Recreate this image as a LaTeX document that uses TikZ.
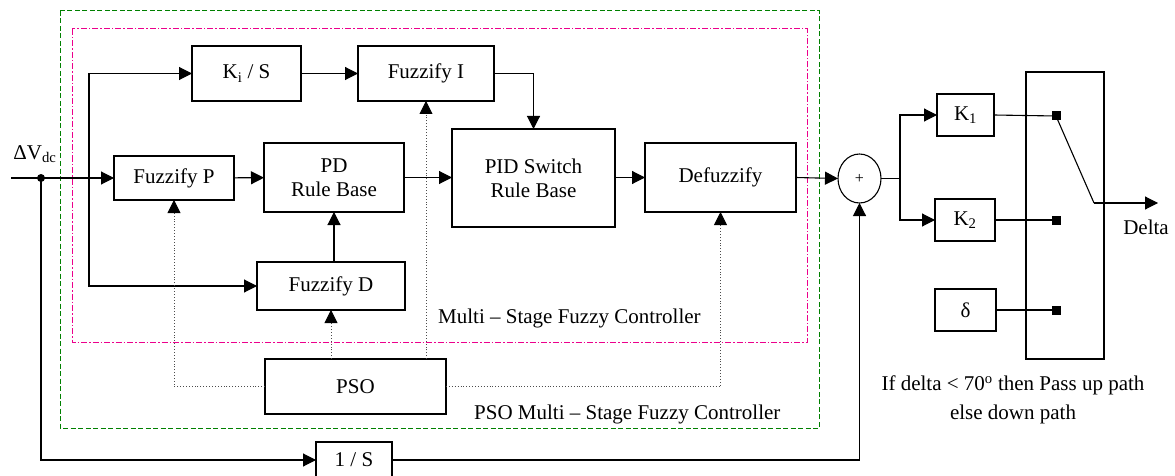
\documentclass[tikz,border=0pt]{standalone}
\usepackage{fontspec}
\setmainfont{Liberation Serif}
\usetikzlibrary{arrows.meta,shapes.geometric}
\begin{document}
\begin{tikzpicture}[x=1pt,y=-1pt,
  every node/.style={font=\fontsize{21}{24}\selectfont},
  blk/.style={draw, line width=1.1pt, rectangle, inner sep=0pt, outer sep=0pt, align=center},
  arr/.style={line width=1.1pt, -{Triangle[length=13pt,width=13pt]}},
  ln/.style={line width=1.1pt},
  dotl/.style={draw=black!70, line width=0.9pt, dotted, -{Triangle[length=13pt,width=13pt,color=black]}},
  term/.style={fill=black, minimum size=9pt, inner sep=0pt, outer sep=0pt},
  lbl/.style={inner sep=0pt}]
\useasboundingbox (0,0) rectangle (1175,476);
% frames
\draw[draw=green!50!black, line width=1pt, dash pattern=on 5pt off 2.5pt] (60,11) rectangle (819,428);
\draw[draw=magenta, line width=1pt, dash pattern=on 6pt off 2pt on 1.5pt off 2pt] (72,29) rectangle (807,342);
% blocks
\node[blk, minimum width=109pt, minimum height=55pt] (kis) at (246.5,73.5) {K\textsubscript{i} / S};
\node[blk, minimum width=136pt, minimum height=55pt] (fi) at (426,73.5) {Fuzzify I};
\node[blk, minimum width=120pt, minimum height=44pt] (fp) at (174,178) {Fuzzify P};
\node[blk, minimum width=140pt, minimum height=69pt] (pd) at (334,177.5) {PD\\Rule Base};
\node[blk, minimum width=163pt, minimum height=98pt] (pid) at (533.5,178) {PID Switch\\Rule Base};
\node[blk, minimum width=151pt, minimum height=69pt] (defz) at (720.5,177.5) {Defuzzify};
\node[blk, minimum width=148pt, minimum height=48pt] (fd) at (331,286) {Fuzzify D};
\node[blk, minimum width=181pt, minimum height=55pt] (pso) at (355.5,386.5) {PSO};
\node[blk, minimum width=76pt, minimum height=36pt] (ins) at (354,460) {1 / S};
\node[draw, ellipse, line width=1.1pt, minimum width=43pt, minimum height=49pt, inner sep=0pt, outer sep=0pt, font=\fontsize{16}{18}\selectfont] (sum) at (859.5,178.5) {+};
\node[blk, minimum width=57pt, minimum height=42pt] (k1) at (965.5,115) {K\textsubscript{1}};
\node[blk, minimum width=60pt, minimum height=42pt] (k2) at (965,220) {K\textsubscript{2}};
\node[blk, minimum width=61pt, minimum height=42pt] (dl) at (965.5,310) {δ};
\node[blk, minimum width=78pt, minimum height=287pt] (sw) at (1065,215.5) {};
\node[term] (t1) at (1056,116) {};
\node[term] (t2) at (1056,220) {};
\node[term] (t3) at (1056,310) {};
% coordinates
\coordinate (src) at (11,178);
\coordinate (jn) at (41,178);
\coordinate (br) at (89,178);
\coordinate (sp) at (900,178.5);
\coordinate (piv) at (1094,203);
\coordinate (out) at (1158,203);
\fill (jn) circle (4pt);
% signal connectors
\draw[arr] (src) -- (fp.west);
\draw[arr] (br) |- (kis.west);
\draw[arr] (br) |- (fd.west);
\draw[arr] (kis) -- (fi);
\draw[arr] (fp) -- (pd);
\draw[arr] (pd.east) -- (pd.east -| pid.west);
\draw[arr] (pid.east |- defz.west) -- (defz.west);
\draw[arr] (defz.east) -- (sum.west);
\draw[arr] (fi.east) -| (pid.north);
\draw[arr] (pd.south |- fd.north) -- (pd.south);
\draw[arr] (jn) |- (ins.west);
\draw[arr] (ins.east) -| (sum.south);
\draw[ln] (sum.east) -- (sp);
\draw[arr] (sp) |- (k1.west);
\draw[arr] (sp) |- (k2.west);
\draw[ln] (k1.east) -- (t1.center);
\draw[ln] (k2.east) -- (t2.center);
\draw[ln] (dl.east) -- (t3.center);
\draw[ln] (t1.center) -- (piv);
\draw[arr] (piv) -- (out);
% PSO tuning connectors
\draw[dotl] (pso.west) -| (fp.south);
\draw[dotl] (fd.south |- pso.north) -- (fd.south);
\draw[dotl] (fi.south |- pso.north) -- (fi.south);
\draw[dotl] (pso.east) -| (defz.south);
% labels
\node[lbl] (vdc) at (35,154) {ΔV\textsubscript{dc}};
\node[lbl, anchor=west] (msfc) at (438,318) {Multi – Stage Fuzzy Controller};
\node[lbl, anchor=west] (psofc) at (474,414) {PSO Multi – Stage Fuzzy Controller};
\node[lbl] (dlt) at (1146,227) {Delta};
\node[lbl, align=center, font=\fontsize{21}{29}\selectfont] (rule) at (1013,400) {If delta < 70\textsuperscript{o} then Pass up path\\else down path};
\end{tikzpicture}
\end{document}
